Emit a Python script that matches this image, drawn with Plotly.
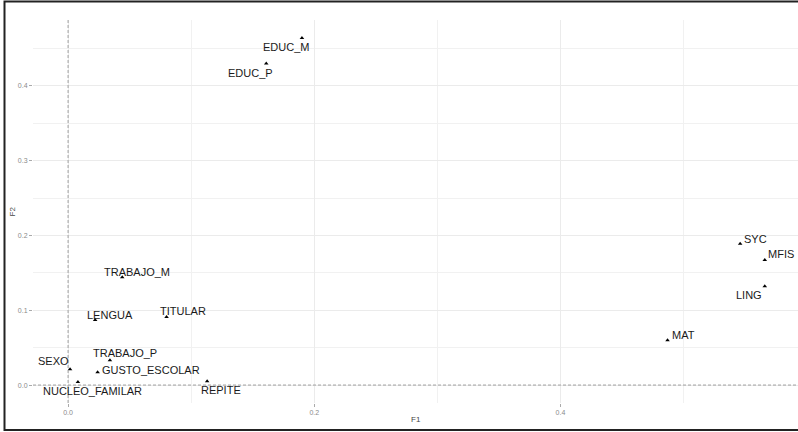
import plotly.graph_objects as go

# Data
labels = ["EDUC_M", "EDUC_P", "TRABAJO_M", "LENGUA", "TITULAR", "SEXO", "TRABAJO_P",
          "GUSTO_ESCOLAR", "NUCLEO_FAMILAR", "REPITE", "SYC", "MFIS", "LING", "MAT"]
f1 = [0.190, 0.161, 0.044, 0.022, 0.080, 0.0016, 0.034, 0.024, 0.008, 0.113, 0.546, 0.566, 0.566, 0.487]
f2 = [0.464, 0.430, 0.144, 0.087, 0.091, 0.021, 0.033, 0.017, 0.004, 0.005, 0.189, 0.167, 0.132, 0.060]

x_ticks = [0.0, 0.2, 0.4]
x_tick_text = ["0.0", "0.2", "0.4"]
y_ticks = [0.0, 0.1, 0.2, 0.3, 0.4]
y_tick_text = ["0.0", "0.1", "0.2", "0.3", "0.4"]

# label offsets (pixels) as placed by the repel layout
label_dx = [-16, -16, 15, 15, 16, -17, 15, 53, 15, 14, 15, 16, -16, 16]
label_dy = [-9, -10, 5, 5, 6, 8, 7, 2, -9, -9, 5, 6, -9, 5]

W, H = 798, 432
ml, mr, mt, mb = 33, 0, 20, 29
pw = W - ml - mr
ph = H - mt - mb

FONT = "Liberation Sans, Arial"

fig = go.Figure()
fig.add_trace(go.Scatter(
    x=f1, y=f2, mode="markers",
    marker=dict(symbol="triangle-up", size=4, color="black"),
    hoverinfo="text", text=labels, showlegend=False,
))

annotations = []
for lab, x, y, dx, dy in zip(labels, f1, f2, label_dx, label_dy):
    annotations.append(dict(
        x=x, y=y, xref="x", yref="y", text=lab, showarrow=False,
        xshift=dx, yshift=dy, xanchor="center", yanchor="middle",
        font=dict(family=FONT, size=11, color="#1a1a1a"),
    ))

# axis titles
annotations.append(dict(x=0.5, y=-(420 - (H - mb)) / ph, xref="paper", yref="paper",
                        text="F1", showarrow=False, xanchor="center", yanchor="middle",
                        font=dict(family=FONT, size=8, color="#444444")))
annotations.append(dict(x=-(ml - 12) / pw, y=0.5, xref="paper", yref="paper",
                        text="F2", showarrow=False, textangle=-90, xanchor="center", yanchor="middle",
                        font=dict(family=FONT, size=8, color="#444444")))

shapes = [
    dict(type="line", xref="x", yref="paper", x0=0, x1=0, y0=0, y1=1,
         line=dict(color="#a0a0a0", width=1, dash="3px,2px")),
    dict(type="line", xref="paper", yref="y", x0=0, x1=1, y0=0, y1=0,
         line=dict(color="#a0a0a0", width=1, dash="3px,2px")),
    # outer frame of the picture
    dict(type="rect", xref="paper", yref="paper",
         x0=-(ml - 4.5) / pw, x1=1.02,
         y0=-(430 - (H - mb)) / ph, y1=1 + (mt - 1.5) / ph,
         line=dict(color="#222222", width=2), layer="above"),
]

fig.update_layout(
    width=W, height=H,
    margin=dict(l=ml, r=mr, t=mt, b=mb),
    paper_bgcolor="white", plot_bgcolor="white",
    annotations=annotations, shapes=shapes,
    xaxis=dict(range=[-0.0285, 0.593], tickvals=x_ticks, ticktext=x_tick_text,
               showgrid=True, gridcolor="#ebebeb", gridwidth=0.8, zeroline=False,
               ticks="outside", ticklen=3, tickcolor="#aaaaaa", tickwidth=0.6,
               tickfont=dict(family=FONT, size=7, color="#8a8a8a"),
               minor=dict(dtick=0.1, tick0=0.1, showgrid=True, gridcolor="#f1f1f1", gridwidth=0.6),
               showline=False),
    yaxis=dict(range=[-0.024, 0.488], tickvals=y_ticks, ticktext=y_tick_text,
               showgrid=True, gridcolor="#ebebeb", gridwidth=0.8, zeroline=False,
               ticks="outside", ticklen=3, tickcolor="#aaaaaa", tickwidth=0.6,
               tickfont=dict(family=FONT, size=7, color="#8a8a8a"),
               minor=dict(dtick=0.05, tick0=0.05, showgrid=True, gridcolor="#f1f1f1", gridwidth=0.6),
               showline=False),
)

fig.write_html("out.html", config={"displayModeBar": False},
               post_script="document.body.style.margin='0';document.body.style.overflow='hidden';")
